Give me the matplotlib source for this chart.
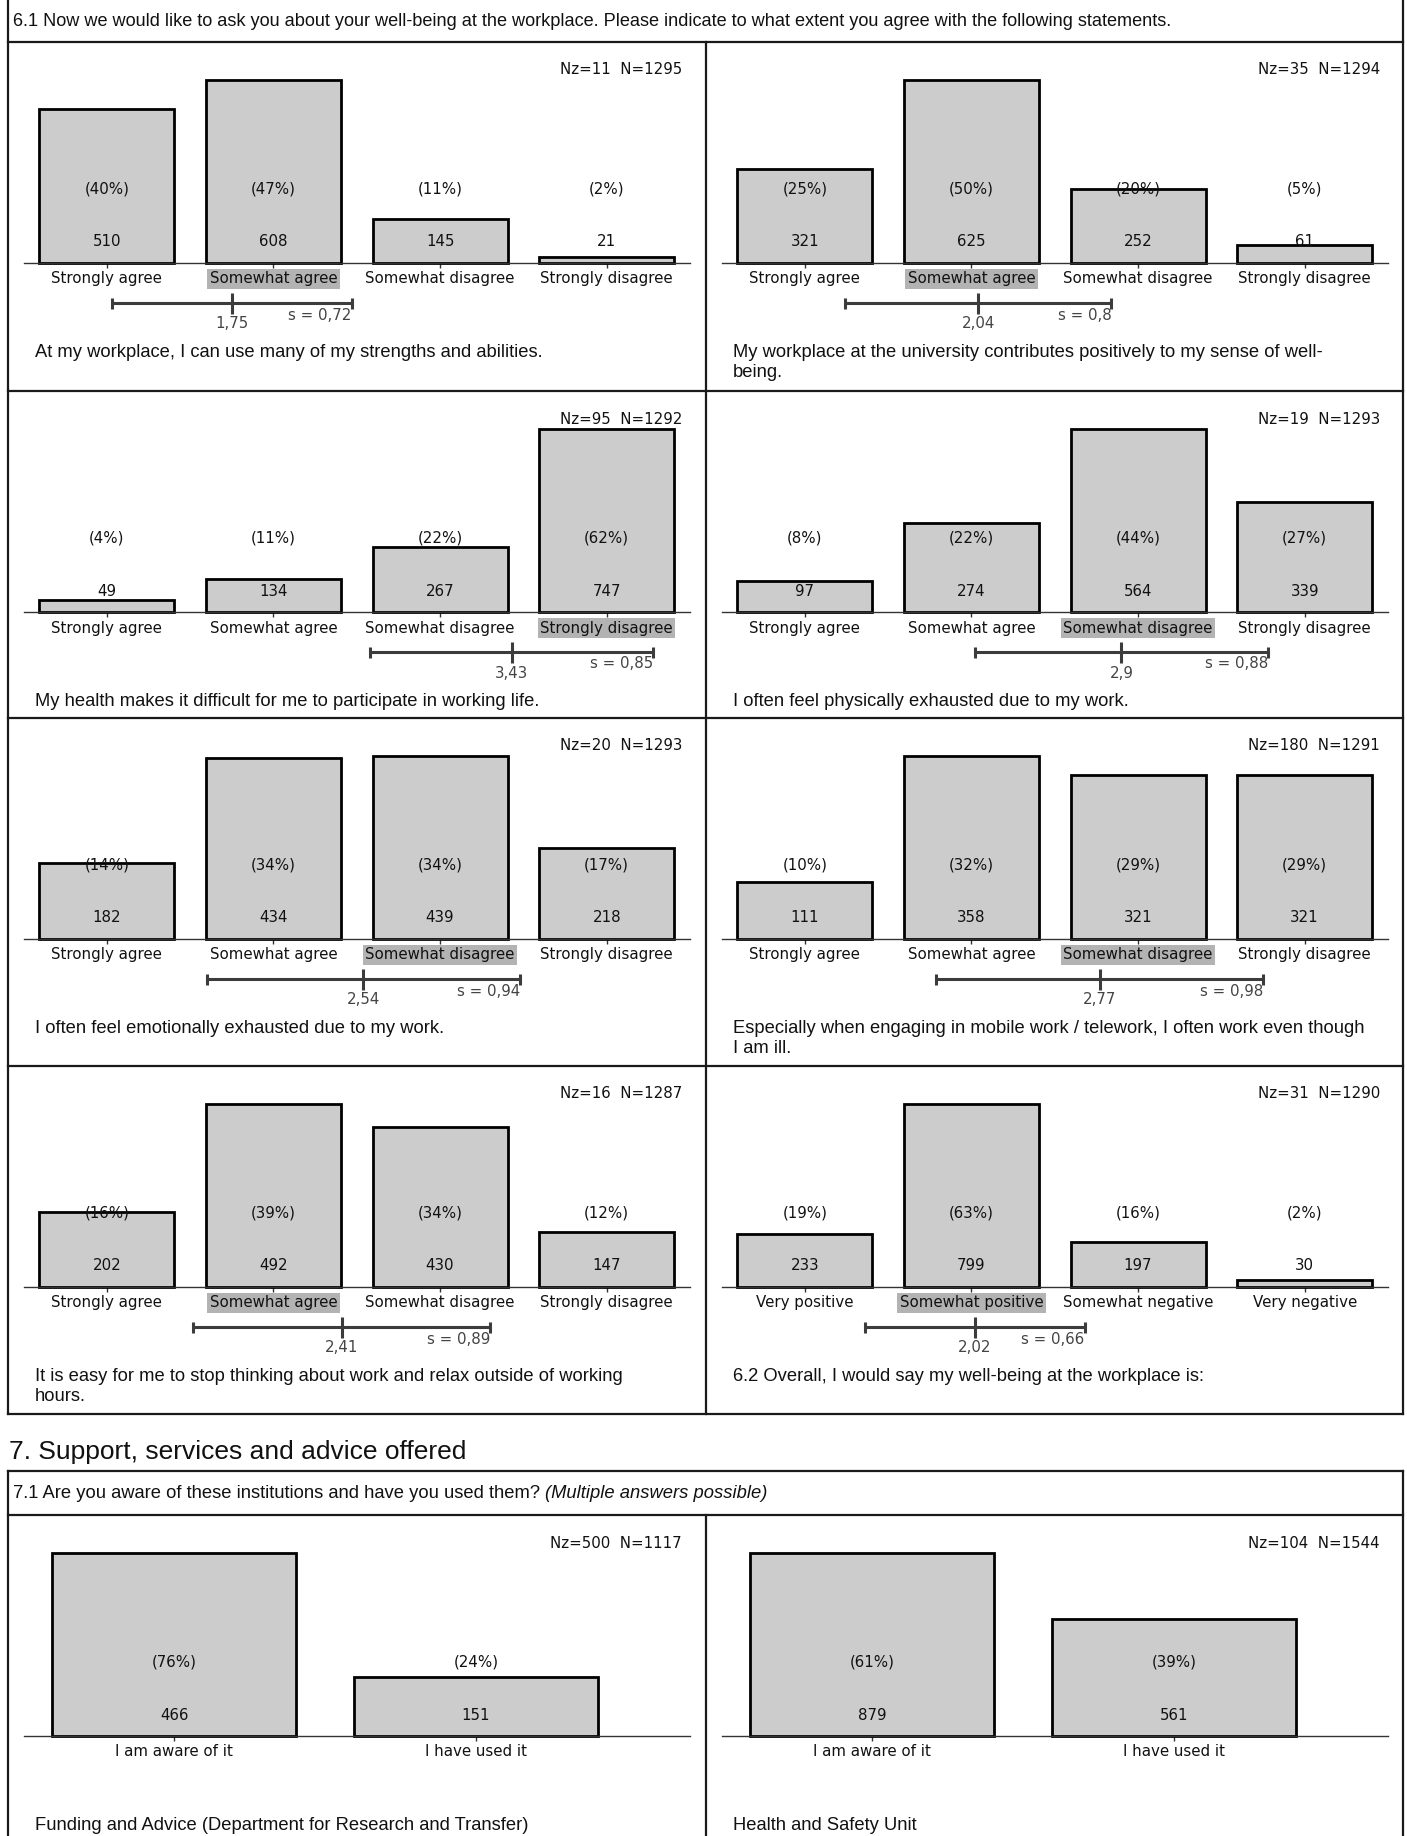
import numpy as np
import matplotlib
matplotlib.use('Agg')
import matplotlib.pyplot as plt
from matplotlib.lines import Line2D
from matplotlib.transforms import blended_transform_factory

# data
agree_labels = ['Strongly agree', 'Somewhat agree', 'Somewhat disagree', 'Strongly disagree']
wellbeing_labels = ['Very positive', 'Somewhat positive', 'Somewhat negative', 'Very negative']
aware_labels = ['I am aware of it', 'I have used it']

statements = [
    'At my workplace, I can use many of my strengths and abilities.',
    'My workplace at the university contributes positively to my sense of well-\nbeing.',
    'My health makes it difficult for me to participate in working life.',
    'I often feel physically exhausted due to my work.',
    'I often feel emotionally exhausted due to my work.',
    'Especially when engaging in mobile work / telework, I often work even though\nI am ill.',
    'It is easy for me to stop thinking about work and relax outside of working\nhours.',
    '6.2 Overall, I would say my well-being at the workplace is:',
]
counts = [
    [510, 608, 145, 21],
    [321, 625, 252, 61],
    [49, 134, 267, 747],
    [97, 274, 564, 339],
    [182, 434, 439, 218],
    [111, 358, 321, 321],
    [202, 492, 430, 147],
    [233, 799, 197, 30],
]
percents = [
    [40, 47, 11, 2],
    [25, 50, 20, 5],
    [4, 11, 22, 62],
    [8, 22, 44, 27],
    [14, 34, 34, 17],
    [10, 32, 29, 29],
    [16, 39, 34, 12],
    [19, 63, 16, 2],
]
nz = [11, 35, 95, 19, 20, 180, 16, 31]
n_total = [1295, 1294, 1292, 1293, 1293, 1291, 1287, 1290]
medians = [1, 1, 3, 2, 2, 2, 1, 1]
means = [1.75, 2.04, 3.43, 2.9, 2.54, 2.77, 2.41, 2.02]
sds = [0.72, 0.8, 0.85, 0.88, 0.94, 0.98, 0.89, 0.66]

inst_names = ['Funding and Advice (Department for Research and Transfer)', 'Health and Safety Unit']
inst_counts = [[466, 151], [879, 561]]
inst_percents = [[76, 24], [61, 39]]
inst_nz = [500, 104]
inst_n = [1117, 1544]

header_61 = ('6.1 Now we would like to ask you about your well-being at the workplace. '
             'Please indicate to what extent you agree with the following statements.')
heading_7 = '7. Support, services and advice offered'
header_71 = '7.1 Are you aware of these institutions and have you used them?'
header_71_it = '(Multiple answers possible)'

# figure in pixel units
W, H = 1407, 1836
DPI = 100
plt.rcParams['font.family'] = 'DejaVu Sans'
fig = plt.figure(figsize=(W / DPI, H / DPI), dpi=DPI)
TXT = 'Liberation Sans'
FS = 10.8


def fx(x):
    return x / W


def fy(y):
    return 1 - y / H


def hline(y, x0, x1):
    fig.add_artist(Line2D([fx(x0), fx(x1)], [fy(y), fy(y)], transform=fig.transFigure,
                          color='#1a1a1a', lw=1.6))


def vline(x, y0, y1):
    fig.add_artist(Line2D([fx(x), fx(x)], [fy(y0), fy(y1)], transform=fig.transFigure,
                          color='#1a1a1a', lw=1.6))


def fmt(v):
    return f'{v:g}'.replace('.', ',')


def draw_panel(left, top, cats, vals, pcts, nzv, nv, statement, median=None, mean=None, sd=None):
    right = left + 698
    ax = fig.add_axes([fx(left + 15.5), fy(top + 221), 666.5 / W, 183 / H])
    xs = np.arange(1, len(cats) + 1)
    ax.bar(xs, vals, width=0.81, color='#cccccc', edgecolor='black', linewidth=2.0,
           clip_on=False, zorder=2)
    ax.set_xlim(0.5, 4.5 if len(cats) == 4 else 2.71)
    ax.set_ylim(0, max(vals))
    for s in ['top', 'left', 'right']:
        ax.spines[s].set_visible(False)
    ax.spines['bottom'].set_color('#333333')
    ax.spines['bottom'].set_linewidth(1.0)
    ax.spines['bottom'].set_zorder(3)
    ax.set_yticks([])
    ax.set_xticks(xs)
    ax.set_xticklabels([])
    ax.tick_params(axis='x', direction='inout', length=6.5, width=1, color='#333333')
    ax.patch.set_alpha(0)

    tr = blended_transform_factory(ax.transData, fig.transFigure)
    for i, (xi, c, p, cat) in enumerate(zip(xs, vals, pcts, cats)):
        ax.text(xi, fy(top + 147), f'({p}%)', transform=tr, ha='center', va='center',
                fontsize=FS, color='#111111', zorder=4)
        ax.text(xi, fy(top + 200), str(c), transform=tr, ha='center', va='center',
                fontsize=FS, color='#111111', zorder=4)
        box = None
        if median is not None and i == median:
            box = dict(boxstyle='square,pad=0.15', fc='#b3b3b3', ec='none')
        ax.text(xi, fy(top + 237), cat, transform=tr, ha='center', va='center',
                fontsize=FS, color='#111111', bbox=box, zorder=4)

    fig.text(fx(right - 24), fy(top + 28), f'Nz={nzv}  N={nv}', ha='right', va='center',
             fontsize=FS, color='#111111')

    if mean is not None:
        lo, hi = mean - sd, mean + sd
        kw = dict(transform=tr, color='#3c3c3c', lw=2.2, clip_on=False, solid_capstyle='butt')
        ax.plot([lo, hi], [fy(top + 261)] * 2, **kw)
        ax.plot([mean, mean], [fy(top + 251), fy(top + 272)], **kw)
        for e in (lo, hi):
            ax.plot([e, e], [fy(top + 256), fy(top + 267)], **kw)
        ax.text(mean, fy(top + 282), fmt(mean), transform=tr, ha='center', va='center',
                fontsize=FS, color='#444444')
        ax.text(hi, fy(top + 273), 's = ' + fmt(sd), transform=tr, ha='right', va='center',
                fontsize=FS, color='#444444')

    fig.text(fx(left + 27), fy(top + 302), statement, ha='left', va='top',
             fontsize=13.2, family=TXT, color='#111111', linespacing=1.2)


# section 6 frame
L, R, MID = 8, 1403, 706
row_tops = [42, 391, 718, 1066]
row_bottom = 1414
fig.text(fx(13), fy(21), header_61, ha='left', va='center', fontsize=13.1, family=TXT,
         color='#111111')
vline(L, 0, row_bottom)
vline(R, 0, row_bottom)
vline(MID, row_tops[0], row_bottom)
for y in row_tops + [row_bottom]:
    hline(y, L, R)

for k in range(8):
    left = L if k % 2 == 0 else MID
    top = row_tops[k // 2]
    cats = wellbeing_labels if k == 7 else agree_labels
    draw_panel(left, top, cats, counts[k], percents[k], nz[k], n_total[k], statements[k],
               medians[k], means[k], sds[k])

# section 7
fig.text(fx(9), fy(1452), heading_7, ha='left', va='center', fontsize=19, family=TXT,
         color='#111111')
box_top, sub_line = 1471, 1515
hline(box_top, L, R)
hline(sub_line, L, R)
vline(L, box_top, H)
vline(R, box_top, H)
vline(MID, sub_line, H)
t = fig.text(fx(13), fy(1493), header_71, ha='left', va='center', fontsize=13.2, family=TXT,
             color='#111111')
bb = t.get_window_extent(renderer=fig.canvas.get_renderer())
fig.text(fx(bb.x1 + 5), fy(1493), header_71_it, ha='left', va='center', fontsize=13.2,
         family=TXT, style='italic', color='#111111')

for k in range(2):
    left = L if k == 0 else MID
    draw_panel(left, sub_line, aware_labels, inst_counts[k], inst_percents[k], inst_nz[k],
               inst_n[k], inst_names[k])

fig.savefig('out.png', dpi=DPI)
